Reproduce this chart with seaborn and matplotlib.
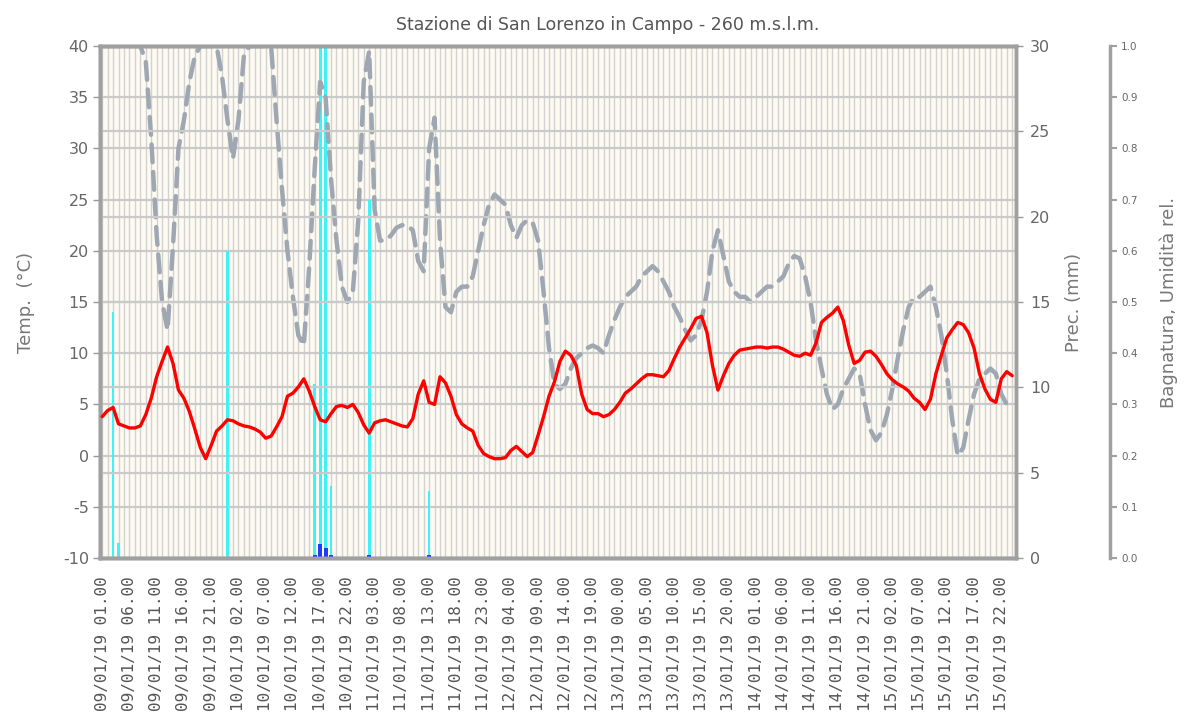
import numpy as np
import pandas as pd
import matplotlib
matplotlib.use("Agg")
import matplotlib.pyplot as plt
import seaborn as sns
from matplotlib.ticker import MultipleLocator, FixedLocator, FormatStrFormatter

# ore di misura (una ogni ora)
ore = pd.date_range("2019-01-09 01:00", periods=168, freq="h")
etichette = [o.strftime("%d/%m/%y %H.%M") for o in ore]

# temperatura (°C)
temp = [3.8, 4.4, 4.7, 3.1, 2.9, 2.7, 2.7, 2.9, 4.0, 5.6,
        7.7, 9.2, 10.6, 9.0, 6.4, 5.6, 4.3, 2.6, 0.8, -0.3,
        1.0, 2.4, 2.9, 3.5, 3.4, 3.1, 2.9, 2.8, 2.6, 2.3,
        1.7, 1.9, 2.8, 3.8, 5.8, 6.1, 6.7, 7.5, 6.3, 4.8,
        3.5, 3.3, 4.1, 4.8, 4.9, 4.7, 5.0, 4.2, 3.0, 2.2,
        3.2, 3.4, 3.5, 3.3, 3.1, 2.9, 2.8, 3.6, 6.0, 7.3,
        5.2, 5.0, 7.7, 7.1, 5.8, 4.0, 3.1, 2.7, 2.4, 1.0,
        0.2, -0.1, -0.3, -0.3, -0.2, 0.5, 0.9, 0.4, -0.1, 0.3,
        2.0, 3.8, 5.8, 7.2, 9.2, 10.2, 9.8, 8.8, 6.0, 4.5,
        4.1, 4.1, 3.8, 4.0, 4.5, 5.2, 6.1, 6.5, 7.0, 7.5,
        7.9, 7.9, 7.8, 7.7, 8.3, 9.5, 10.6, 11.5, 12.4, 13.4,
        13.6, 12.0, 8.8, 6.4, 7.8, 9.0, 9.8, 10.3, 10.4, 10.5,
        10.6, 10.6, 10.5, 10.6, 10.6, 10.4, 10.1, 9.8, 9.7, 10.0,
        9.8, 11.0, 13.0, 13.5, 13.9, 14.5, 13.2, 10.8, 9.0, 9.3,
        10.1, 10.2, 9.7, 8.9, 8.0, 7.4, 7.0, 6.7, 6.3, 5.6,
        5.2, 4.5, 5.5, 8.0, 9.8, 11.5, 12.3, 13.0, 12.8, 12.0,
        10.5, 8.0, 6.5, 5.5, 5.2, 7.5, 8.2, 7.8]

# umidità relativa (0-1)
umid = [1.0, 1.0, 1.0, 1.0, 1.0, 1.0, 1.0, 1.0, 0.97, 0.82,
        0.63, 0.50, 0.445, 0.61, 0.80, 0.855, 0.93, 0.98, 1.0, 1.0,
        1.0, 1.0, 0.94, 0.855, 0.78, 0.855, 0.98, 1.0, 1.0, 1.0,
        1.0, 1.0, 0.855, 0.72, 0.60, 0.51, 0.435, 0.415, 0.57, 0.76,
        0.93, 0.90, 0.74, 0.62, 0.53, 0.50, 0.52, 0.66, 0.93, 0.99,
        0.68, 0.62, 0.62, 0.63, 0.645, 0.65, 0.65, 0.64, 0.58, 0.56,
        0.80, 0.86, 0.62, 0.49, 0.48, 0.52, 0.53, 0.53, 0.55, 0.60,
        0.65, 0.69, 0.71, 0.70, 0.69, 0.65, 0.625, 0.65, 0.66, 0.655,
        0.62, 0.52, 0.41, 0.34, 0.33, 0.34, 0.37, 0.39, 0.40, 0.41,
        0.415, 0.41, 0.40, 0.435, 0.465, 0.49, 0.51, 0.52, 0.53, 0.55,
        0.56, 0.57, 0.56, 0.54, 0.52, 0.49, 0.47, 0.445, 0.425, 0.435,
        0.465, 0.52, 0.60, 0.64, 0.59, 0.54, 0.52, 0.51, 0.51, 0.50,
        0.51, 0.52, 0.53, 0.53, 0.54, 0.55, 0.575, 0.59, 0.585, 0.55,
        0.50, 0.425, 0.37, 0.32, 0.29, 0.30, 0.33, 0.35, 0.37, 0.36,
        0.30, 0.25, 0.23, 0.245, 0.28, 0.33, 0.39, 0.445, 0.49, 0.51,
        0.51, 0.52, 0.53, 0.49, 0.435, 0.36, 0.27, 0.20, 0.215, 0.27,
        0.32, 0.35, 0.36, 0.37, 0.36, 0.32, 0.30, 0.30]

# bagnatura fogliare (0-1), solo ore non nulle
bagn_ore = [2, 3, 23, 39, 40, 41, 42, 49, 60]
bagn_val = [0.48, 0.03, 0.60, 0.34, 1.0, 1.0, 0.14, 0.70, 0.13]

# precipitazione (mm), solo ore non nulle
prec_ore = [39, 40, 41, 42, 49, 60]
prec_val = [0.2, 0.8, 0.6, 0.2, 0.2, 0.2]

ore_idx = np.arange(len(temp))

sns.set_style("white")
plt.rcParams['font.family'] = ['DejaVu Sans']
plt.rcParams['axes.unicode_minus'] = False

GRIGIO = '#a0a0a0'
fig = plt.figure(figsize=(11.94, 7.2), dpi=100)
ax_h = fig.add_axes([100 / 1194, 1 - 558 / 720, 916 / 1194, 512 / 720])
ax_p = ax_h.twinx()
ax_t = ax_h.twinx()

# asse bagnatura / umidità (sfondo e griglia)
ax_h.set_facecolor('#fdfbf1')
sns.barplot(x=bagn_ore, y=bagn_val, native_scale=True, width=0.5,
            color='#3ef2f5', saturation=1, errorbar=None, ax=ax_h,
            linewidth=0, edgecolor='none', zorder=2)
sns.lineplot(x=ore_idx, y=umid, ax=ax_h, color='#9ea7b2', linewidth=3.2,
             linestyle=(0, (4, 2.2)), dash_capstyle='round', zorder=3)

# precipitazione
sns.barplot(x=prec_ore, y=prec_val, native_scale=True, width=0.7,
            color='#1f3cff', saturation=1, errorbar=None, ax=ax_p,
            linewidth=0, edgecolor='none', zorder=2)

# temperatura
sns.lineplot(x=ore_idx, y=temp, ax=ax_t, color='#ff0000', linewidth=2.4, zorder=4)

for a in (ax_h, ax_p, ax_t):
    a.set_xlim(-0.4, 167.7)
    a.set_xlabel('')
    for s in a.spines.values():
        s.set_color(GRIGIO)
        s.set_linewidth(2.5)

ax_h.set_ylim(0, 1.0)
ax_p.set_ylim(0, 30)
ax_t.set_ylim(-10, 40)

# griglia
ax_h.xaxis.set_major_locator(FixedLocator(range(0, 168, 5)))
ax_h.xaxis.set_minor_locator(MultipleLocator(1))
ax_h.grid(True, which='both', axis='x', color='#d2d2d2', linewidth=1.0, zorder=0)
ax_h.yaxis.set_major_locator(MultipleLocator(0.1))
ax_h.grid(True, which='major', axis='y', color='#cacaca', linewidth=1.6, zorder=0)
ax_h.set_axisbelow(True)
ax_p.yaxis.set_major_locator(MultipleLocator(5))
ax_p.grid(True, axis='y', color='#cacaca', linewidth=1.6, zorder=0)
ax_p.set_axisbelow(True)

# etichette asse x
ax_h.set_xticklabels([etichette[i] for i in range(0, 168, 5)], rotation=90,
                     family='DejaVu Sans Mono', fontsize=11.5, color='#555555')
ax_h.tick_params(axis='x', which='major', length=4, width=1, color='#999999', pad=9)
ax_h.tick_params(axis='x', which='minor', length=4, width=1, color='#aaaaaa')

# asse temperatura a sinistra
ax_t.yaxis.tick_left()
ax_t.yaxis.set_label_position('left')
ax_t.yaxis.set_major_locator(MultipleLocator(5))
ax_t.tick_params(axis='y', length=5, width=1, color='#999999', labelcolor='#666666', labelsize=11.5, pad=3)
ax_t.set_ylabel('Temp.  (°C)', fontsize=13, color='#777777')
ax_t.yaxis.set_label_coords(-0.071, 0.5)

# asse precipitazione a destra
ax_p.tick_params(axis='y', length=5, width=1, color='#999999', labelcolor='#666666', labelsize=11.5, pad=5)
ax_p.set_ylabel('Prec. (mm)', fontsize=13, color='#777777')
ax_p.yaxis.set_label_coords(1.054, 0.5)

# terzo asse (bagnatura, umidità)
ax_h.yaxis.tick_right()
ax_h.yaxis.set_label_position('right')
ax_h.spines['right'].set_position(('axes', 1.1026))
ax_h.yaxis.set_major_formatter(FormatStrFormatter('%.1f'))
ax_h.tick_params(axis='y', length=5, width=1.5, color=GRIGIO, labelcolor='#666666', labelsize=7.5, pad=3)
ax_h.set_ylabel('Bagnatura, Umidità rel.', fontsize=13, color='#777777')
ax_h.yaxis.set_label_coords(1.157, 0.5)

ax_p.tick_params(axis='x', bottom=False, labelbottom=False)
ax_t.tick_params(axis='x', bottom=False, labelbottom=False)

fig.text(0.509, 0.965, 'Stazione di San Lorenzo in Campo - 260 m.s.l.m.',
         ha='center', va='center', fontsize=12.5, color='#555555')

fig.savefig('out.png', dpi=100)
